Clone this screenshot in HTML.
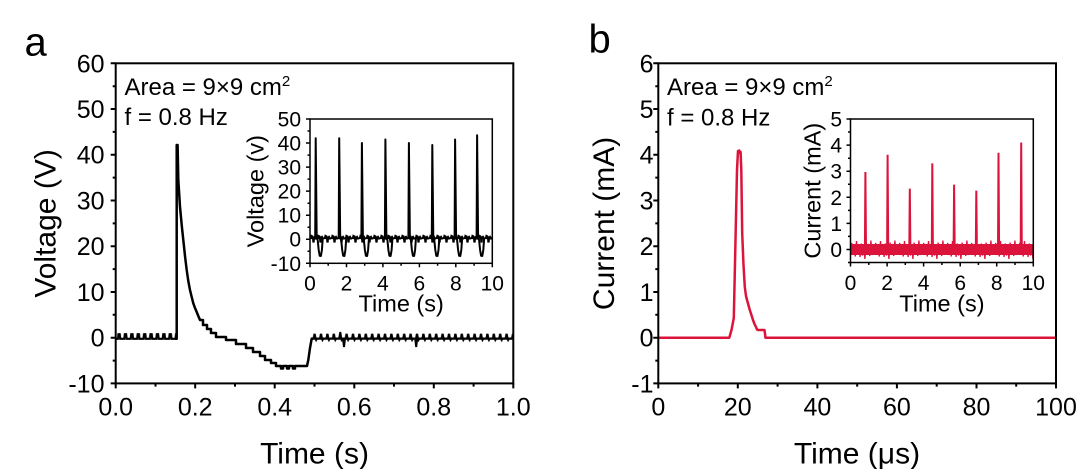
<!DOCTYPE html>
<html>
<head>
<meta charset="utf-8">
<style>
  html,body{margin:0;padding:0;background:#fff;}
  svg{display:block;}
  text{font-family:"Liberation Sans",Arial,sans-serif;fill:#000;}
</style>
</head>
<body>
<svg width="1080" height="469" viewBox="0 0 1080 469" xmlns="http://www.w3.org/2000/svg">
  <defs>
    <pattern id="tA" patternUnits="userSpaceOnUse" x="115.7" y="330" width="6.4" height="14">
      <path d="M0,8.8 L2.2,8.8 L2.8,4.2 L4,4.2 L4.6,8.8 L6.4,8.8" fill="none" stroke="#000" stroke-width="2.2"/>
    </pattern>
    <pattern id="tB" patternUnits="userSpaceOnUse" x="311.7" y="330" width="6.4" height="14">
      <path d="M0,8.6 L2,8.6 L2.9,3.8 L3.8,8.6 L4.4,9.8 L5,8.6 L6.4,8.6" fill="none" stroke="#000" stroke-width="2.2"/>
    </pattern>
    <pattern id="nI" patternUnits="userSpaceOnUse" x="310" y="232" width="7" height="14">
      <path d="M0,6 L1,6 L1.5,4 L2.5,4.5 L3,6 L3.5,10.5 L4,6 L5,5 L6,6.5 L7,6" fill="none" stroke="#000" stroke-width="2.2"/>
    </pattern>
    <pattern id="rn" patternUnits="userSpaceOnUse" x="850.5" y="238" width="24" height="24">
      <polyline points="0,11.7 1.2,5 2.4,17 3.6,6.5 4.8,18.5 6,3 7.2,16.5 8.4,6 9.6,19 10.8,5.5 12,17.5 13.2,7 14.4,21 15.6,4.5 16.8,17 18,6 19.2,18 20.4,2.5 21.6,16.5 22.8,6.5 24,11.7" fill="none" stroke="#DC143C" stroke-width="1.3"/>
    </pattern>
  </defs>

  <!-- Panel letters -->
  <text x="24.5" y="55.5" font-size="40">a</text>
  <text x="588.5" y="52.5" font-size="40">b</text>

  <!-- ================= PANEL A ================= -->
  <!-- main series -->
  <rect x="115.7" y="330" width="60.3" height="14" fill="url(#tA)"/>
  <rect x="311.7" y="330" width="201.6" height="14" fill="url(#tB)"/>
  <path d="M175,338.8 L176.7,338.8 L176.7,145 L177.6,145 L178.3,180 L180,206.7 L181.7,225 L183.3,240 L185,256 L186.7,270 L188.3,281 L190,290 L191.7,297 L193.3,303.3 L195,308 L196.7,312 L198.3,316 L200,320 L203,320 L203,325 L207,325 L207,329 L211,329 L211,333 L216,333 L216,337 L226,337 L226,340 L236,340 L236,344 L246,344 L246,348 L253,348 L253,352 L260,352 L260,356 L265,356 L265,360 L271,360 L271,363 L276,363 L276,366 L281,366 L281,368.5 L283,368.5 L283,366 L287,366 L287,368.5 L289,368.5 L289,366 L293,366 L293,368.5 L295,368.5 L295,366 L307,366 L308.3,360 L310,348 L311.7,338.6 L313,338.6" fill="none" stroke="#000" stroke-width="2.5" stroke-linejoin="round"/>
  <path d="M343,338.5 L344,347 L345,338.5 M415.2,338.5 L416.2,347 L417.2,338.5 M339.5,338.5 L340.3,332 L341,338.5" fill="none" stroke="#000" stroke-width="2"/>

  <!-- frame -->
  <rect x="115.7" y="63.3" width="397.6" height="320.1" fill="none" stroke="#000" stroke-width="2"/>
  <!-- ticks -->
  <path d="M110.7,63.3H115.7M110.7,109H115.7M110.7,154.7H115.7M110.7,200.5H115.7M110.7,246.2H115.7M110.7,292H115.7M110.7,337.7H115.7M110.7,383.4H115.7
           M112.7,86.2H115.7M112.7,131.9H115.7M112.7,177.6H115.7M112.7,223.4H115.7M112.7,269.1H115.7M112.7,314.8H115.7M112.7,360.6H115.7
           M115.7,383.4V388.4M195.2,383.4V388.4M274.7,383.4V388.4M354.3,383.4V388.4M433.8,383.4V388.4M513.3,383.4V388.4
           M155.5,383.4V386.6M235,383.4V386.6M314.5,383.4V386.6M394,383.4V386.6M473.6,383.4V386.6" fill="none" stroke="#000" stroke-width="2"/>
  <!-- tick labels -->
  <g font-size="25" text-anchor="end">
    <text x="104.5" y="72.3">60</text>
    <text x="104.5" y="118">50</text>
    <text x="104.5" y="163.7">40</text>
    <text x="104.5" y="209.5">30</text>
    <text x="104.5" y="255.2">20</text>
    <text x="104.5" y="301">10</text>
    <text x="104.5" y="346.7">0</text>
    <text x="104.5" y="392.4">-10</text>
  </g>
  <g font-size="25" text-anchor="middle">
    <text x="115.7" y="415.5">0.0</text>
    <text x="195.2" y="415.5">0.2</text>
    <text x="274.7" y="415.5">0.4</text>
    <text x="354.3" y="415.5">0.6</text>
    <text x="433.8" y="415.5">0.8</text>
    <text x="513.3" y="415.5">1.0</text>
  </g>
  <text x="314.5" y="463.5" font-size="30" text-anchor="middle">Time (s)</text>
  <text transform="translate(55.5,223.4) rotate(-90)" font-size="30" text-anchor="middle">Voltage (V)</text>
  <text x="124.5" y="95" font-size="24">Area = 9×9 cm<tspan dy="-9" font-size="15">2</tspan></text>
  <text x="124.5" y="125" font-size="24">f = 0.8 Hz</text>

  <!-- inset a -->
  <rect x="310" y="119" width="182.3" height="144.3" fill="#fff"/>
  <rect x="310" y="232" width="182.3" height="14" fill="url(#nI)"/>
  <path d="M315.2,238 L315.7,138.2 L316.7,238.5 L317.7,240 L318.7,250 L319.7,255.8 L320.9,256 L321.9,250 L322.7,239
           M338.7,238 L339.2,138.2 L340.2,238.5 L341.2,240 L342.2,250 L343.2,255.8 L344.4,256 L345.4,250 L346.2,239
           M361.4,238 L361.9,143 L362.9,238.5 L363.9,240 L364.9,250 L365.9,255.8 L367.1,256 L368.1,250 L368.9,239
           M384.9,238 L385.4,139.5 L386.4,238.5 L387.4,240 L388.4,250 L389.4,255.8 L390.6,256 L391.6,250 L392.4,239
           M408.4,238 L408.9,143 L409.9,238.5 L410.9,240 L411.9,250 L412.9,255.8 L414.1,256 L415.1,250 L415.9,239
           M431.8,238 L432.3,145 L433.3,238.5 L434.3,240 L435.3,250 L436.3,255.8 L437.5,256 L438.5,250 L439.3,239
           M454.6,238 L455.1,139.5 L456.1,238.5 L457.1,240 L458.1,250 L459.1,255.8 L460.3,256 L461.3,250 L462.1,239
           M476.6,238 L477.1,135.3 L478.1,238.5 L479.1,240 L480.1,250 L481.1,255.8 L482.3,256 L483.3,250 L484.1,239" fill="none" stroke="#000" stroke-width="2" stroke-linejoin="round"/>
  <rect x="310" y="119" width="182.3" height="144.3" fill="none" stroke="#000" stroke-width="1.5"/>
  <path d="M306,119H310M306,143.05H310M306,167.1H310M306,191.15H310M306,215.2H310M306,239.25H310M306,263.3H310
           M307.5,131H310M307.5,155.1H310M307.5,179.1H310M307.5,203.2H310M307.5,227.2H310M307.5,251.3H310
           M310,263.3V267.3M346.5,263.3V267.3M382.9,263.3V267.3M419.4,263.3V267.3M455.8,263.3V267.3M492.3,263.3V267.3
           M328.2,263.3V265.8M364.7,263.3V265.8M401.1,263.3V265.8M437.6,263.3V265.8M474.1,263.3V265.8" fill="none" stroke="#000" stroke-width="1.5"/>
  <g font-size="21" text-anchor="end">
    <text x="301" y="126.5">50</text>
    <text x="301" y="150.5">40</text>
    <text x="301" y="174.6">30</text>
    <text x="301" y="198.6">20</text>
    <text x="301" y="222.7">10</text>
    <text x="301" y="246.7">0</text>
    <text x="301" y="270.8">-10</text>
  </g>
  <g font-size="21" text-anchor="middle">
    <text x="310" y="290.5">0</text>
    <text x="346.5" y="290.5">2</text>
    <text x="382.9" y="290.5">4</text>
    <text x="419.4" y="290.5">6</text>
    <text x="455.8" y="290.5">8</text>
    <text x="492.3" y="290.5">10</text>
  </g>
  <text x="401.2" y="311.5" font-size="23.5" text-anchor="middle">Time (s)</text>
  <text transform="translate(263.5,191.2) rotate(-90)" font-size="23.5" text-anchor="middle">Voltage (v)</text>

  <!-- ================= PANEL B ================= -->
  <path d="M658.3,337.7 L729.3,337.7 L731.5,330 L733.8,318 L735.5,240 L737,170 L738,151 L739.3,150.5 L740,153 L740.6,152 L741.3,170 L742.2,233 L743.5,265 L744.8,287 L746,296 L747.6,302 L749.5,309 L751.1,314 L753,320 L754.5,324 L756,327 L757,329.5 L758,330 L764.5,330 L765.5,337.7 L1056,337.7" fill="none" stroke="#DC143C" stroke-width="2.5" stroke-linejoin="round"/>
  <rect x="658.3" y="63.3" width="397.7" height="320.1" fill="none" stroke="#000" stroke-width="2"/>
  <path d="M653.3,63.3H658.3M653.3,109H658.3M653.3,154.7H658.3M653.3,200.5H658.3M653.3,246.2H658.3M653.3,292H658.3M653.3,337.7H658.3M653.3,383.4H658.3
           M655.3,86.2H658.3M655.3,131.9H658.3M655.3,177.6H658.3M655.3,223.4H658.3M655.3,269.1H658.3M655.3,314.8H658.3M655.3,360.6H658.3
           M658.3,383.4V388.4M737.8,383.4V388.4M817.4,383.4V388.4M896.9,383.4V388.4M976.5,383.4V388.4M1056,383.4V388.4
           M698.1,383.4V386.6M777.6,383.4V386.6M857.2,383.4V386.6M936.7,383.4V386.6M1016.2,383.4V386.6" fill="none" stroke="#000" stroke-width="2"/>
  <g font-size="25" text-anchor="end">
    <text x="653.5" y="72.3">6</text>
    <text x="653.5" y="118">5</text>
    <text x="653.5" y="163.7">4</text>
    <text x="653.5" y="209.5">3</text>
    <text x="653.5" y="255.2">2</text>
    <text x="653.5" y="301">1</text>
    <text x="653.5" y="346.7">0</text>
    <text x="653.5" y="392.4">-1</text>
  </g>
  <g font-size="25" text-anchor="middle">
    <text x="658.3" y="415.5">0</text>
    <text x="737.8" y="415.5">20</text>
    <text x="817.4" y="415.5">40</text>
    <text x="896.9" y="415.5">60</text>
    <text x="976.5" y="415.5">80</text>
    <text x="1056" y="415.5">100</text>
  </g>
  <text x="857" y="463.5" font-size="30" text-anchor="middle">Time (μs)</text>
  <text transform="translate(614,223.4) rotate(-90)" font-size="30" text-anchor="middle">Current (mA)</text>
  <text x="667" y="95" font-size="24">Area = 9×9 cm<tspan dy="-9" font-size="15">2</tspan></text>
  <text x="667" y="125.5" font-size="24">f = 0.8 Hz</text>

  <!-- inset b -->
  <rect x="850.5" y="119" width="182.8" height="143.5" fill="#fff"/>
  <rect x="850.5" y="244" width="182.8" height="11" fill="#DC143C"/>
  <rect x="850.5" y="238" width="182.8" height="24" fill="url(#rn)"/>
  <path d="M864.9,249 L865.4,172 L866,249
           M887.1,249 L887.6,154.8 L888.2,249
           M909.3,249 L909.8,188.6 L910.4,249
           M931.8,249 L932.3,163.4 L932.9,249
           M953.6,249 L954.1,184.6 L954.7,249
           M975.8,249 L976.3,190.6 L976.9,249
           M998,249 L998.5,152.8 L999.1,249
           M1020.7,249 L1021.2,142.5 L1021.8,249" fill="none" stroke="#DC143C" stroke-width="2"/>
  <rect x="850.5" y="119" width="182.8" height="143.5" fill="none" stroke="#000" stroke-width="1.5"/>
  <path d="M846.5,119H850.5M846.5,145.1H850.5M846.5,171.2H850.5M846.5,197.3H850.5M846.5,223.4H850.5M846.5,249.45H850.5
           M848,132H850.5M848,158.2H850.5M848,184.3H850.5M848,210.4H850.5M848,236.4H850.5M848,262.5H850.5
           M850.5,262.5V266.5M887.1,262.5V266.5M923.6,262.5V266.5M960.2,262.5V266.5M996.7,262.5V266.5M1033.3,262.5V266.5
           M868.8,262.5V265M905.3,262.5V265M941.9,262.5V265M978.4,262.5V265M1015,262.5V265" fill="none" stroke="#000" stroke-width="1.5"/>
  <g font-size="21" text-anchor="end">
    <text x="842" y="126.5">5</text>
    <text x="842" y="152.6">4</text>
    <text x="842" y="178.7">3</text>
    <text x="842" y="204.8">2</text>
    <text x="842" y="230.9">1</text>
    <text x="842" y="257">0</text>
  </g>
  <g font-size="21" text-anchor="middle">
    <text x="850.5" y="290">0</text>
    <text x="887.1" y="290">2</text>
    <text x="923.6" y="290">4</text>
    <text x="960.2" y="290">6</text>
    <text x="996.7" y="290">8</text>
    <text x="1033.3" y="290">10</text>
  </g>
  <text x="941.9" y="311.5" font-size="23.5" text-anchor="middle">Time (s)</text>
  <text transform="translate(820.5,190.7) rotate(-90)" font-size="23.5" text-anchor="middle">Current (mA)</text>
</svg>
</body>
</html>
